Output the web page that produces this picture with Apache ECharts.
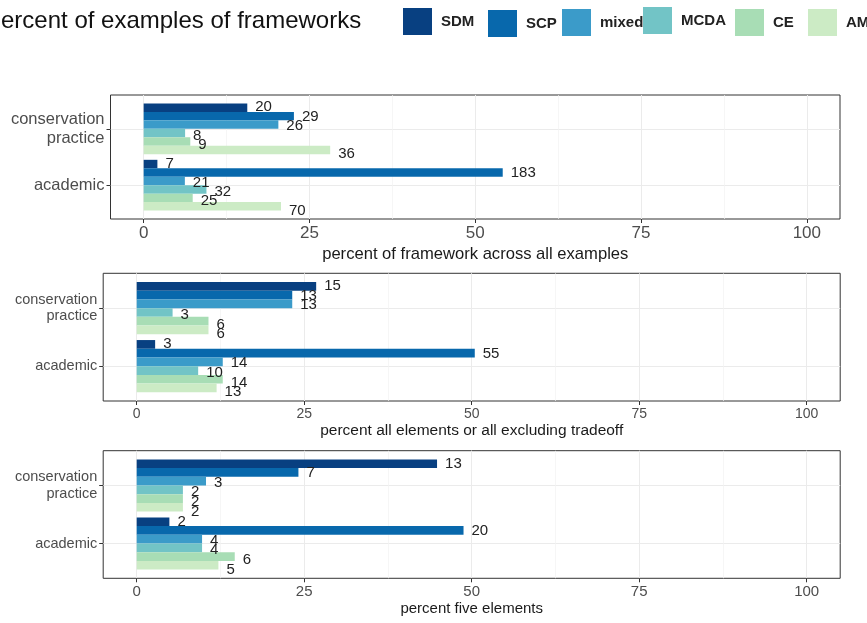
<!DOCTYPE html>
<html>
<head>
<meta charset="utf-8">
<script src="https://cdn.jsdelivr.net/npm/echarts@6/dist/echarts.min.js"></script>
<style>
  html, body { margin: 0; padding: 0; background: #fff; }
  #chart { width: 867px; height: 623px; }
</style>
</head>
<body>
<div id="chart"></div>
<script>
// ---- data ----
const chartTitle = 'Percent of examples of frameworks';
const categories = ['academic', 'conservation practice'];
const frameworks = ['SDM', 'SCP', 'mixed', 'MCDA', 'CE', 'AM'];
const xTicks = [0, 25, 50, 75, 100];
const axisTitles = [
  'percent of framework across all examples',
  'percent all elements or all excluding tradeoff',
  'percent five elements'
];

// number of examples per framework, in the order SDM, SCP, mixed, MCDA, CE, AM
const allExamplesAcademic  = [7, 183, 21, 32, 25, 70];
const allExamplesPractice  = [20, 29, 26, 8, 9, 36];
const allElementsAcademic  = [3, 55, 14, 10, 14, 13];
const allElementsPractice  = [15, 13, 13, 3, 6, 6];
const fiveElementsAcademic = [2, 20, 4, 4, 6, 5];
const fiveElementsPractice = [13, 7, 3, 2, 2, 2];

// ---- styling / layout ----
const palette = ['#084081', '#0868ac', '#3b9bc9', '#72c4c6', '#a8ddb5', '#ccebc5'];

const panels = [
  { academic: allExamplesAcademic, practice: allExamplesPractice, title: axisTitles[0],
    top: 95, bottom: 219, left: 110.5, right: 840,
    catFont: 16.5, catLine: 19, tickFont: 17, nameFont: 16.6, nameGap: 27 },
  { academic: allElementsAcademic, practice: allElementsPractice, title: axisTitles[1],
    top: 273.3, bottom: 401, left: 103.2, right: 840.2,
    catFont: 14.5, catLine: 16.5, tickFont: 14, nameFont: 15.5, nameGap: 22 },
  { academic: fiveElementsAcademic, practice: fiveElementsPractice, title: axisTitles[2],
    top: 450.7, bottom: 578.3, left: 103.2, right: 840.2,
    catFont: 14.5, catLine: 16.5, tickFont: 15, nameFont: 15, nameGap: 23 }
];

// legend key positions
const legendBoxes = [
  { left: 403, top: 8 }, { left: 488, top: 10 }, { left: 562, top: 9 },
  { left: 643, top: 7 }, { left: 735, top: 9 }, { left: 808, top: 9 }
];

const share = (arr) => {
  const total = arr.reduce((a, b) => a + b, 0);
  return arr.map(v => v / total * 100);
};

const grid = [], xAxis = [], yAxis = [], series = [];

panels.forEach((p, k) => {
  const W = p.right - p.left;
  const H = p.bottom - p.top;
  const unit = H / 2.2;            // one category step on the discrete axis
  const xPad = W * 5 / 110;        // 5 % expansion either side of 0..100
  const g0 = grid.length;

  // frame
  grid.push({ left: p.left, top: p.top, width: W, height: H, show: true,
              borderColor: '#333', borderWidth: 1, backgroundColor: 'transparent' });
  xAxis.push({ gridIndex: g0, type: 'value', show: false });
  yAxis.push({ gridIndex: g0, type: 'value', show: false });

  // x scale with ticks, labels, vertical grid lines
  grid.push({ left: p.left + xPad, top: p.top, width: W - 2 * xPad, height: H });
  xAxis.push({
    gridIndex: g0 + 1, type: 'value', min: xTicks[0], max: xTicks[xTicks.length - 1],
    interval: xTicks[1] - xTicks[0],
    axisLine: { show: false },
    axisTick: { show: true, length: 4, lineStyle: { color: '#333', width: 1 } },
    axisLabel: { fontSize: p.tickFont, color: '#4d4d4d', margin: 6, fontFamily: 'Liberation Sans' },
    splitLine: { show: true, lineStyle: { color: '#ebebeb', width: 1 } },
    minorTick: { show: false, splitNumber: 2 },
    minorSplitLine: { show: true, lineStyle: { color: '#f2f2f2', width: 0.7 } },
    name: p.title, nameLocation: 'middle', nameGap: p.nameGap,
    nameTextStyle: { fontSize: p.nameFont, color: '#1a1a1a', fontFamily: 'Liberation Sans' }
  });
  yAxis.push({ gridIndex: g0 + 1, type: 'value', show: false });

  // category labels, ticks, horizontal grid lines at the category centres
  grid.push({ left: p.left, top: p.top + 0.6 * unit, width: W, height: unit });
  xAxis.push({ gridIndex: g0 + 2, type: 'value', show: false });
  yAxis.push({
    gridIndex: g0 + 2, type: 'category', data: categories, boundaryGap: false,
    axisLine: { show: false },
    axisTick: { show: true, length: 4, lineStyle: { color: '#333', width: 1 } },
    axisLabel: { fontSize: p.catFont, lineHeight: p.catLine, color: '#4d4d4d', margin: 6,
                 fontFamily: 'Liberation Sans', formatter: v => v.replace(' ', '\n') },
    splitLine: { show: true, lineStyle: { color: '#ebebeb', width: 1 } }
  });

  // bars
  grid.push({ left: p.left, top: p.top + 0.1 * unit, width: W, height: 2 * unit });
  xAxis.push({ gridIndex: g0 + 3, type: 'value', show: false, min: -5, max: 105 });
  yAxis.push({ gridIndex: g0 + 3, type: 'category', data: categories, show: false });

  const acadShare = share(p.academic);
  const pracShare = share(p.practice);
  // the first series sits at the top of each group
  frameworks.forEach((name, i) => {
    series.push({
      type: 'bar', name,
      xAxisIndex: g0 + 3, yAxisIndex: g0 + 3,
      barGap: '0%', barCategoryGap: '10%',
      itemStyle: { color: palette[i] },
      data: [
        { value: acadShare[i], count: p.academic[i] },
        { value: pracShare[i], count: p.practice[i] }
      ],
      label: {
        show: true, position: 'right', distance: 8,
        offset: [0, 2 + (i - 2.5) * 0.95],
        fontSize: 15, color: '#222', fontFamily: 'Liberation Sans',
        formatter: d => String(d.data.count)
      },
      emphasis: { disabled: true }
    });
  });
});

const legend = frameworks.map((name, i) => ({
  data: [name], left: legendBoxes[i].left, top: legendBoxes[i].top, padding: 0,
  icon: 'rect', itemWidth: 29, itemHeight: 27, selectedMode: false,
  textStyle: { fontFamily: 'Liberation Sans', fontWeight: 'bold', fontSize: 15,
               color: '#222', padding: [0, 0, 0, 4] }
}));

const chart = echarts.init(document.getElementById('chart'), null, { renderer: 'canvas' });
chart.setOption({
  animation: false,
  backgroundColor: '#fff',
  grid, xAxis, yAxis, series, legend,
  graphic: [{
    type: 'text', left: -15, top: 9,
    style: { text: chartTitle, font: '24px "Liberation Sans"', fill: '#111' }
  }]
});
</script>
</body>
</html>
